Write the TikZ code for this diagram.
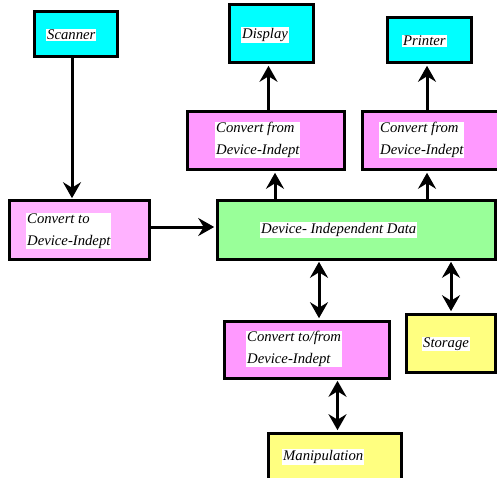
\documentclass[tikz,border=0pt]{standalone}
\usepackage{fontspec}
\setmainfont{Liberation Serif}
\usetikzlibrary{arrows.meta}
\definecolor{cyanbox}{RGB}{0,255,255}
\definecolor{magbox}{RGB}{255,153,255}
\definecolor{pinkbox}{RGB}{255,178,255}
\definecolor{greenbox}{RGB}{153,255,153}
\definecolor{yellowbox}{RGB}{255,255,128}
\begin{document}
\begin{tikzpicture}[x=1pt,y=-1pt,
  box/.style={draw=black, line width=3pt, rectangle, inner sep=0pt},
  lbl/.style={fill=white, inner sep=1pt, anchor=west, align=left,
    font=\fontsize{14.7}{21.5}\selectfont\itshape},
  arr/.style={line width=3pt, shorten >=1.3pt, -{Stealth[length=16pt,width=18pt,inset=5.5pt]}},
  darr/.style={line width=3pt, shorten >=1.3pt, shorten <=1.3pt, {Stealth[length=16pt,width=18pt,inset=5.5pt]}-{Stealth[length=16pt,width=18pt,inset=5.5pt]}}]
\useasboundingbox (0,0) rectangle (497,478);
% boxes
\node[box, fill=cyanbox, minimum width=83pt, minimum height=45pt] (scanner) at (75.5,34.5) {};
\node[box, fill=cyanbox, minimum width=84pt, minimum height=58pt] (display) at (271,34) {};
\node[box, fill=cyanbox, minimum width=84pt, minimum height=45pt] (printer) at (429,40.5) {};
\node[box, fill=magbox, minimum width=157pt, minimum height=58pt] (cfl) at (265.5,141) {};
\node[box, fill=magbox, minimum width=140pt, minimum height=58pt] (cfr) at (432,141) {};
\node[box, fill=pinkbox, minimum width=140pt, minimum height=58pt] (convto) at (79,230) {};
\node[box, fill=greenbox, minimum width=278pt, minimum height=58pt] (did) at (356,230) {};
\node[box, fill=magbox, minimum width=165pt, minimum height=57pt] (ctf) at (306.5,349.5) {};
\node[box, fill=yellowbox, minimum width=89pt, minimum height=58pt] (storage) at (450.5,343) {};
\node[box, fill=yellowbox, minimum width=133pt, minimum height=49pt] (manip) at (334.5,457.5) {};
% labels
\node[lbl] (tscanner) at (46,35) {Scanner};
\node[lbl] (tdisplay) at (241,35) {Display};
\node[lbl] (tprinter) at (402,41) {Printer};
\node[lbl] (tcfl) at (215,140) {Convert from\\Device-Indept};
\node[lbl] (tcfr) at (379,140) {Convert from\\Device-Indept};
\node[lbl] (tconvto) at (26,231) {Convert to\\Device-Indept};
\node[lbl] (tdid) at (260,230) {Device- Independent Data};
\node[lbl] (tctf) at (246,349) {Convert to/from\\Device-Indept};
\node[lbl] (tstorage) at (422,344) {Storage};
\node[lbl] (tmanip) at (282,457) {Manipulation};
% x positions of connectors
\coordinate (xa) at (72,0);
\coordinate (xb) at (268.5,0);
\coordinate (xc) at (275,0);
\coordinate (xd) at (427,0);
\coordinate (xe) at (319,0);
\coordinate (xf) at (451,0);
\coordinate (xg) at (337.5,0);
\coordinate (ya) at (0,227);
% connectors
\draw[arr] (scanner.south -| xa) -- (convto.north -| xa);
\draw[arr] (convto.east |- ya) -- (did.west |- ya);
\draw[arr] (cfl.north -| xb) -- (display.south -| xb);
\draw[arr] (did.north -| xc) -- (cfl.south -| xc);
\draw[arr] (cfr.north -| xd) -- (printer.south -| xd);
\draw[arr] (did.north -| xd) -- (cfr.south -| xd);
\draw[darr] (did.south -| xe) -- (ctf.north -| xe);
\draw[darr] (did.south -| xf) -- (storage.north -| xf);
\draw[darr] (ctf.south -| xg) -- (manip.north -| xg);
\end{tikzpicture}
\end{document}
